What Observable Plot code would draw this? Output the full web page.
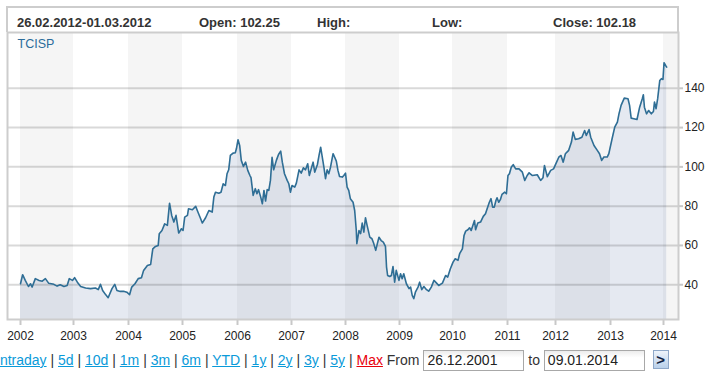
<!DOCTYPE html>
<html>
<head>
<meta charset="utf-8">
<script src="https://cdn.jsdelivr.net/npm/d3@7"></script>
<script src="https://cdn.jsdelivr.net/npm/@observablehq/plot@0.6"></script>
<style>
  html, body { margin: 0; padding: 0; background: #fff; }
  body { width: 708px; height: 377px; overflow: hidden; position: relative; font-family: "Liberation Sans", Arial, sans-serif; }
  #hdr { position: absolute; left: 6px; top: 6px; width: 673px; height: 26px; box-sizing: border-box;
         border: 2px solid #cdcdcd; border-bottom: none; }
  .h { position: absolute; top: 16px; font-size: 13px; line-height: 13px; font-weight: bold; color: #333; white-space: pre; }
  #chart { position: absolute; left: 0; top: 31px; }
  #chart svg [aria-label="x-axis tick"], #chart svg [aria-label="y-axis tick"] { stroke: #c8c8c8; stroke-width: 2px; }
  #chart svg [aria-label="x-axis"] line, #chart svg [aria-label="y-axis"] line { stroke: #c8c8c8; stroke-width: 2px; }
  #ctrl { position: absolute; left: -4px; top: 350px; font-size: 14px; line-height: 20px; color: #333; white-space: pre; }
  #ctrl a { color: #0a9ad9; text-decoration: underline; }
  #ctrl a.max { color: #e8000b; }
  .box { display: inline-block; box-sizing: border-box; width: 101px; height: 21px; line-height: 19px;
         border: 1px solid #a8a8a8; padding-left: 3px; color: #222;
         background: linear-gradient(#ececec, #ffffff 35%); }
  .btn { display: inline-block; box-sizing: border-box; width: 16px; height: 19px; line-height: 17px; text-align: center;
         border: 1px solid #8fa8c8; background: linear-gradient(#eef4fb, #b9d0ea); color: #102040; font-weight: bold; font-size: 15px; }
</style>
</head>
<body>
<div id="hdr"></div>
<div class="h" style="left:17px">26.02.2012-01.03.2012</div>
<div class="h" style="left:199px">Open: 102.25</div>
<div class="h" style="left:317px">High:</div>
<div class="h" style="left:432px">Low:</div>
<div class="h" style="left:553px">Close: 102.18</div>
<div id="chart"></div>
<div id="ctrl"><a>Intraday</a> | <a>5d</a> | <a>10d</a> | <a>1m</a> | <a>3m</a> | <a>6m</a> | <a>YTD</a> | <a>1y</a> | <a>2y</a> | <a>3y</a> | <a>5y</a> | <a class="max">Max</a> From <span class="box">26.12.2001</span> to <span class="box">09.01.2014</span>  <span class="btn">&gt;</span></div>
<script>
// ---- data (time as decimal year, value = close) ----
const seriesName = "TCISP";
const times = [
  2002.00, 2002.04, 2002.09, 2002.15, 2002.19, 2002.22, 2002.28, 2002.35, 2002.41, 2002.47,
  2002.53, 2002.63, 2002.69, 2002.75, 2002.82, 2002.88, 2002.92, 2002.98,
  2003.02, 2003.07, 2003.13, 2003.22, 2003.31, 2003.40, 2003.45, 2003.49, 2003.53, 2003.58,
  2003.63, 2003.70, 2003.75, 2003.79, 2003.85, 2003.91, 2003.97,
  2004.02, 2004.06, 2004.12, 2004.18, 2004.24, 2004.28, 2004.35, 2004.41, 2004.45, 2004.50,
  2004.55, 2004.57, 2004.62, 2004.67, 2004.72, 2004.76, 2004.80, 2004.84, 2004.88, 2004.93, 2004.98,
  2005.01, 2005.04, 2005.09, 2005.11, 2005.18, 2005.24, 2005.28, 2005.33, 2005.36, 2005.42,
  2005.48, 2005.54, 2005.57, 2005.60, 2005.66, 2005.70, 2005.74, 2005.78, 2005.81, 2005.84,
  2005.87, 2005.92, 2005.96, 2005.98,
  2006.01, 2006.04, 2006.07, 2006.11, 2006.15, 2006.19, 2006.23, 2006.25, 2006.29, 2006.33,
  2006.36, 2006.39, 2006.43, 2006.46, 2006.49, 2006.52, 2006.55, 2006.58, 2006.61, 2006.64,
  2006.67, 2006.72, 2006.76, 2006.80, 2006.83, 2006.87, 2006.92, 2006.95, 2006.98,
  2007.01, 2007.06, 2007.09, 2007.14, 2007.18, 2007.22, 2007.26, 2007.30, 2007.33, 2007.37,
  2007.40, 2007.43, 2007.48, 2007.51, 2007.54, 2007.57, 2007.60, 2007.63, 2007.66, 2007.69,
  2007.72, 2007.77, 2007.80, 2007.83, 2007.86, 2007.89, 2007.94, 2007.97,
  2008.00, 2008.03, 2008.06, 2008.09, 2008.14, 2008.17, 2008.20, 2008.21, 2008.25, 2008.28,
  2008.31, 2008.34, 2008.37, 2008.40, 2008.45, 2008.49, 2008.52, 2008.56, 2008.59, 2008.62,
  2008.66, 2008.70, 2008.74, 2008.76, 2008.78, 2008.82, 2008.85, 2008.88, 2008.91, 2008.94, 2008.99,
  2009.02, 2009.05, 2009.08, 2009.13, 2009.18, 2009.21, 2009.24, 2009.27, 2009.30, 2009.35,
  2009.38, 2009.42, 2009.46, 2009.51, 2009.55, 2009.60, 2009.65, 2009.70, 2009.74, 2009.81,
  2009.87, 2009.91, 2009.96,
  2010.01, 2010.05, 2010.10, 2010.13, 2010.18, 2010.21, 2010.24, 2010.28, 2010.31, 2010.34,
  2010.37, 2010.40, 2010.42, 2010.46, 2010.51, 2010.56, 2010.60, 2010.63, 2010.67, 2010.70,
  2010.73, 2010.76, 2010.79, 2010.81, 2010.84, 2010.87, 2010.90, 2010.95, 2010.98,
  2011.01, 2011.04, 2011.08, 2011.12, 2011.17, 2011.24, 2011.31, 2011.36, 2011.41, 2011.45,
  2011.52, 2011.62, 2011.69, 2011.74, 2011.77, 2011.83, 2011.90, 2011.96,
  2012.02, 2012.06, 2012.10, 2012.14, 2012.18, 2012.24, 2012.29, 2012.32, 2012.36, 2012.42,
  2012.48, 2012.53, 2012.56, 2012.61, 2012.64, 2012.70, 2012.76, 2012.80, 2012.84, 2012.88,
  2012.94, 2012.97,
  2013.03, 2013.08, 2013.13, 2013.16, 2013.20, 2013.26, 2013.33, 2013.36, 2013.39, 2013.44,
  2013.50, 2013.55, 2013.60, 2013.62, 2013.64, 2013.68, 2013.72, 2013.77, 2013.81, 2013.83,
  2013.86, 2013.89, 2013.93, 2013.96, 2013.99,
  2014.01, 2014.04, 2014.06
];
const closes = [
  40.5, 45.1, 42.2, 39.1, 40.5, 38.8, 43.1, 42.2, 41.8, 43.1,
  40.8, 40.2, 39.3, 40.0, 39.1, 39.6, 43.1, 42.2,
  43.6, 41.3, 39.1, 38.3, 38.0, 38.3, 37.5, 40.2, 37.1, 35.1,
  33.4, 38.0, 40.2, 37.1, 36.6, 36.7, 36.2,
  34.9, 38.8, 40.5, 43.1, 43.6, 47.3, 49.8, 50.3, 58.3, 59.5,
  60.0, 66.0, 67.6, 71.0, 70.2, 81.5, 75.3, 71.9, 75.3, 66.3, 68.5,
  67.6, 74.4, 75.3, 78.7, 78.2, 79.9, 77.0, 73.6, 71.4, 74.1,
  77.8, 77.0, 84.6, 87.1, 86.6, 87.1, 91.4, 90.5, 96.5, 98.5,
  105.8, 107.0, 107.2, 109.2,
  113.8, 110.9, 103.3, 100.2, 102.4, 98.2, 95.6, 94.5, 85.5, 88.9,
  86.3, 88.4, 84.6, 81.2, 88.0, 82.6, 88.4, 88.0, 93.1, 104.9,
  98.5, 103.3, 106.3, 108.0, 102.4, 96.5, 93.1, 91.4, 87.1,
  90.5, 89.7, 91.7, 98.5, 96.8, 99.5, 98.5, 101.6, 95.6, 99.5,
  102.4, 97.3, 101.2, 105.8, 110.0, 104.9, 99.9, 94.0, 98.5, 96.5,
  99.5, 106.7, 104.9, 102.9, 98.2, 95.1, 94.8, 95.6,
  96.8, 89.7, 88.0, 83.8, 82.0, 77.8, 67.6, 60.9, 67.6, 66.0,
  71.4, 66.8, 74.1, 70.2, 64.2, 63.4, 61.2, 57.5, 60.9, 64.2,
  62.5, 61.7, 59.5, 49.0, 44.7, 44.2, 44.7, 49.3, 41.3, 47.3, 42.2,
  45.6, 43.1, 45.6, 40.5, 38.0, 38.8, 34.6, 32.9, 36.2, 38.8,
  41.3, 37.5, 39.1, 37.5, 36.7, 38.8, 42.2, 40.8, 39.6, 40.8,
  44.7, 43.9, 48.1,
  51.5, 53.2, 52.4, 55.8, 58.3, 65.1, 67.3, 68.0, 69.0, 67.6,
  70.2, 72.7, 68.0, 71.4, 71.9, 74.8, 76.1, 78.7, 82.0, 83.8,
  79.5, 79.5, 82.9, 84.3, 82.0, 83.3, 86.0, 87.1, 86.3,
  95.6, 96.5, 99.9, 101.1, 99.0, 99.0, 97.3, 93.1, 95.6, 97.0,
  95.6, 96.0, 93.1, 94.5, 100.7, 95.0, 98.2, 99.0,
  102.4, 104.9, 105.8, 102.4, 106.7, 108.4, 112.6, 117.7, 114.0, 114.3,
  115.1, 118.5, 116.0, 119.0, 115.1, 110.9, 108.4, 106.7, 103.3, 105.0,
  105.0, 106.7,
  114.3, 120.2, 122.8, 127.0, 131.3, 135.0, 134.7, 131.3, 124.8, 124.5,
  124.1, 130.4, 134.7, 136.7, 130.4, 127.0, 128.7, 127.0, 128.2, 133.0,
  129.6, 134.7, 144.0, 144.9, 144.5,
  153.0, 151.6, 150.8
];
const yearTicks = [2002, 2003, 2004, 2005, 2006, 2007, 2008, 2009, 2010, 2011, 2012, 2013, 2014];
const shadedYears = [2002, 2004, 2006, 2008, 2010, 2012, 2014];
const valueTicks = [40, 60, 80, 100, 120, 140];

const data = times.map((t, i) => ({t, v: closes[i]}));

const chart = Plot.plot({
  width: 708,
  height: 318,
  marginTop: 1,
  marginBottom: 30,
  marginLeft: 7,
  marginRight: 30,
  style: {fontFamily: "'Liberation Sans', Arial, sans-serif", fontSize: "12px", color: "#222", background: "transparent"},
  x: {
    type: "linear",
    domain: [2001.755, ...yearTicks, 2014.283],
    range: [7, 20, 73, 128, 182, 237, 291, 345, 399, 452, 507, 555, 610, 663, 678],
    ticks: yearTicks,
    tickFormat: d => String(d),
    tickSize: 6,
    tickPadding: 6,
    label: null
  },
  y: {
    domain: [22.3, 168.4],
    axis: "right",
    ticks: valueTicks,
    tickSize: 4,
    tickPadding: 2,
    label: null
  },
  marks: [
    Plot.rect(shadedYears, {x1: d => d, x2: d => d + 1, fill: "#f5f5f5", clip: true}),
    Plot.areaY(data, {x: "t", y: "v", fill: "#2a4d8f", fillOpacity: 0.12, clip: true}),
    Plot.ruleY(valueTicks, {stroke: "#000", strokeOpacity: 0.15, strokeWidth: 2}),
    Plot.line(data, {x: "t", y: "v", stroke: "#2f6e95", strokeWidth: 1.6}),
    Plot.text([seriesName], {frameAnchor: "top-left", dx: 10, dy: 11, textAnchor: "start", lineAnchor: "middle", fill: "#2b6c9b", fontSize: 12.5}),
    Plot.frame({stroke: "#cdcdcd", strokeWidth: 2})
  ]
});
document.getElementById("chart").appendChild(chart);
</script>
</body>
</html>
